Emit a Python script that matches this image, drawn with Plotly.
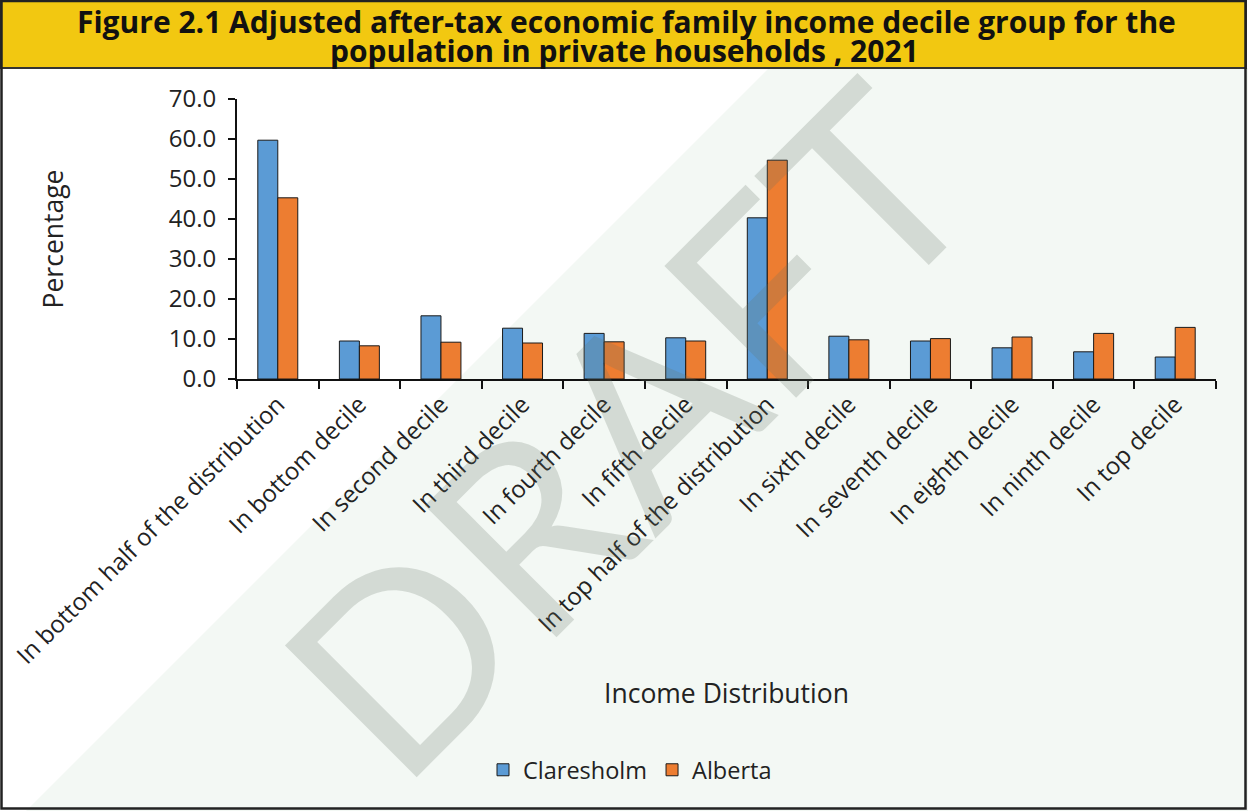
import plotly.graph_objects as go

categories = [
    "In bottom half of the distribution",
    "In bottom decile",
    "In second decile",
    "In third decile",
    "In fourth decile",
    "In fifth decile",
    "In top half of the distribution",
    "In sixth decile",
    "In seventh decile",
    "In eighth decile",
    "In ninth decile",
    "In top decile",
]
claresholm = [59.7, 9.5, 15.8, 12.7, 11.4, 10.3, 40.3, 10.7, 9.5, 7.8, 6.8, 5.5]
alberta = [45.3, 8.3, 9.2, 9.0, 9.3, 9.5, 54.7, 9.8, 10.1, 10.5, 11.4, 12.9]
y_ticks = [0, 10, 20, 30, 40, 50, 60, 70]

W, H = 1248, 811
L, R, T, B = 237, 1216, 99, 379


def px(x):
    return (x - L) / (R - L)


def py(y):
    return (B - y) / (B - T)


FONT = "'Open Sans', Lato, sans-serif"
TXT = "#222222"

fig = go.Figure()
fig.add_trace(go.Bar(name="Claresholm", x=categories, y=claresholm,
                     marker=dict(color="#5B9BD5", line=dict(color="#1a1a1a", width=1))))
fig.add_trace(go.Bar(name="Alberta", x=categories, y=alberta,
                     marker=dict(color="#ED7D31", line=dict(color="#1a1a1a", width=1))))

shapes = [
    # light background triangle
    dict(type="path", xref="paper", yref="paper", layer="below",
         path=f"M{px(26)},{py(811)} L{px(769)},{py(68)} L{px(1248)},{py(68)} L{px(1248)},{py(811)} Z",
         fillcolor="#F3F8F4", line=dict(width=0)),
    # title band
    dict(type="rect", xref="paper", yref="paper", layer="below",
         x0=px(1), x1=px(1246), y0=py(68), y1=py(1),
         fillcolor="#F2C811", line=dict(color="#333333", width=2)),
    # outer border
    dict(type="rect", xref="paper", yref="paper", layer="above",
         x0=px(1.5), x1=px(1245.5), y0=py(808.5), y1=py(1),
         fillcolor="rgba(0,0,0,0)", line=dict(color="#222222", width=2.5)),
]

annotations = [
    dict(text="DRAFT", xref="paper", yref="paper", x=px(624), y=py(427),
         xanchor="center", yanchor="middle",
         textangle=-45, showarrow=False,
         font=dict(family="Lato, sans-serif", size=260, color="rgba(100,115,100,0.22)")),
    dict(text="Figure 2.1 Adjusted after-tax economic family income decile group for the",
         xref="paper", yref="paper", x=px(626), y=py(21), xanchor="center", yanchor="middle",
         showarrow=False,
         font=dict(family=FONT, size=30, color="#111111", weight="bold")),
    dict(text="population in private households , 2021",
         xref="paper", yref="paper", x=px(624), y=py(51), xanchor="center", yanchor="middle",
         showarrow=False,
         font=dict(family=FONT, size=30, color="#111111", weight="bold")),
]

fig.update_layout(
    width=W, height=H,
    margin=dict(l=L, r=W - R, t=T, b=H - B, autoexpand=False),
    paper_bgcolor="white", plot_bgcolor="rgba(0,0,0,0)",
    barmode="group", bargap=0.51, bargroupgap=0,
    font=dict(family=FONT, color=TXT, size=24),
    shapes=shapes, annotations=annotations,
    legend=dict(orientation="h", x=px(630), xanchor="center", y=py(770), yanchor="middle",
                font=dict(family=FONT, size=23.5, color=TXT), bgcolor="rgba(0,0,0,0)",
                traceorder="normal"),
    showlegend=True,
)
fig.update_xaxes(
    type="category", tickangle=-45, tickson="boundaries", ticks="outside", ticklen=8,
    tickwidth=2, tickcolor="#111111", showline=True, linecolor="#111111", linewidth=2,
    showgrid=False, automargin=False, tickfont=dict(family=FONT, size=24, color=TXT),
    title=dict(text="Income Distribution", font=dict(family=FONT, size=26.5, color=TXT), standoff=15),
)
fig.update_yaxes(
    range=[0, 70], tickvals=y_ticks, tickformat=".1f", ticks="outside", ticklen=7,
    tickwidth=2, tickcolor="#111111", showline=True, linecolor="#111111", linewidth=2,
    showgrid=False, zeroline=False, automargin=False, ticklabelstandoff=7,
    tickfont=dict(family=FONT, size=24, color=TXT),
    title=dict(text="Percentage", font=dict(family=FONT, size=26.5, color=TXT), standoff=97),
)

fig.write_html(
    "out.html",
    config={"displayModeBar": False},
    post_script="document.body.style.margin='0';document.body.style.overflow='hidden';",
)
